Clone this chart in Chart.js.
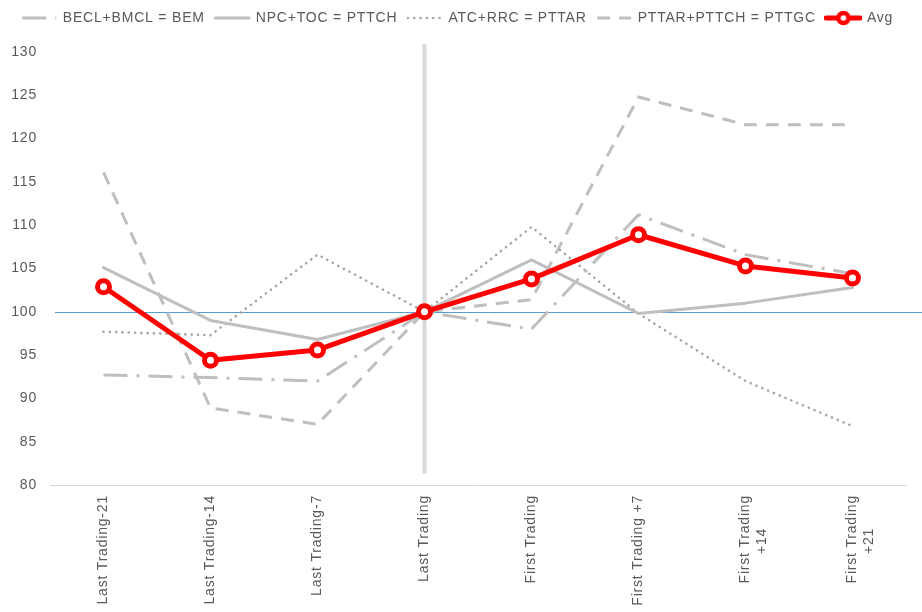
<!DOCTYPE html>
<html>
<head>
<meta charset="utf-8">
<script src="https://cdn.jsdelivr.net/npm/chart.js@4/dist/chart.umd.min.js"></script>
<style>
  html, body { margin: 0; padding: 0; background: #ffffff; }
  #wrap { width: 922px; height: 612px; }
</style>
</head>
<body>
<div id="wrap"><canvas id="c" width="922" height="612"></canvas></div>
<script>
const NB = '\u00A0';
const categories = ['Last Trading-21', 'Last Trading-14', 'Last Trading-7', 'Last Trading', 'First Trading', 'First Trading +7', ['First Trading', '+14' + NB.repeat(7)], ['First Trading', '+21' + NB.repeat(7)]];
const seriesNames = ['BECL+BMCL = BEM', 'NPC+TOC = PTTCH', 'ATC+RRC = PTTAR', 'PTTAR+PTTCH = PTTGC', 'Avg'];
const bem   = [92.7, 92.4, 92.0, 100, 98.0, 111.2, 106.6, 104.4];
const pttch = [105.1, 99.0, 96.8, 100, 106.0, 99.8, 101.0, 102.8];
const pttar = [97.7, 97.3, 106.6, 100, 109.8, 99.8, 92.0, 86.8];
const pttgc = [116.1, 88.9, 87.0, 100, 101.4, 124.8, 121.6, 121.6];
const avg   = [102.9, 94.4, 95.6, 100, 103.8, 108.9, 105.3, 103.9];
const markerCategory = 'Last Trading';
const markerRange = [130.9, 81.3];
const baselineValue = 100;
const yTicks = { min: 80, max: 130, step: 5 };

const GRAY = '#bfbfbf';
const DOT_GRAY = '#a6a6a6';
const TXT = '#595959';
const FONT = "'Liberation Sans', Arial, sans-serif";

const styles = [
  { color: GRAY, width: 3, dash: [24, 9, 3, 9], cap: 'butt' },
  { color: GRAY, width: 3, dash: [], cap: 'round' },
  { color: DOT_GRAY, width: 2.6, dash: [0.1, 6.2], cap: 'round' },
  { color: GRAY, width: 3, dash: [13, 9], cap: 'butt' },
  { color: '#ff0000', width: 5, dash: [], cap: 'round' }
];

function makeSample(i) {
  const cv = document.createElement('canvas');
  cv.width = 38; cv.height = 18;
  const g = cv.getContext('2d');
  const s = styles[i];
  g.strokeStyle = s.color; g.lineWidth = s.width; g.lineCap = s.cap;
  g.setLineDash(s.dash);
  g.beginPath(); g.moveTo(2, 9); g.lineTo(36, 9); g.stroke();
  if (i === 4) {
    g.setLineDash([]);
    g.beginPath(); g.arc(19, 9, 5, 0, Math.PI * 2);
    g.fillStyle = '#ffffff'; g.fill();
    g.lineWidth = 4.5; g.strokeStyle = '#ff0000'; g.stroke();
  }
  return cv;
}
const samples = [0, 1, 2, 3, 4].map(makeSample);

function lineDs(i, data, order) {
  const s = styles[i];
  return {
    label: seriesNames[i], data: data, order: order,
    borderColor: s.color, backgroundColor: s.color, borderWidth: s.width,
    borderDash: s.dash, borderCapStyle: s.cap, borderJoinStyle: 'round',
    pointRadius: 0, pointHoverRadius: 0, tension: 0, fill: false
  };
}

const datasets = [
  lineDs(0, bem, 1),
  lineDs(1, pttch, 2),
  lineDs(2, pttar, 3),
  lineDs(3, pttgc, 4),
  Object.assign(lineDs(4, avg, 0), {
    pointRadius: 6, pointBorderWidth: 5, pointBackgroundColor: '#ffffff',
    pointBorderColor: '#ff0000', borderJoinStyle: 'round'
  }),
  {
    label: 'marker', order: 10,
    data: [{ x: markerCategory, y: markerRange[0] }, { x: markerCategory, y: markerRange[1] }],
    borderColor: '#d9d9d9', borderWidth: 4, pointRadius: 0, clip: false, fill: false
  }
];

const baselinePlugin = {
  id: 'baseline',
  beforeDatasetsDraw(chart) {
    const y = chart.scales.y.getPixelForValue(baselineValue);
    const ctx = chart.ctx;
    ctx.save();
    ctx.strokeStyle = '#5b9bd5'; ctx.lineWidth = 1;
    ctx.beginPath();
    ctx.moveTo(chart.chartArea.left + 5, Math.round(y) + 0.5);
    ctx.lineTo(chart.width, Math.round(y) + 0.5);
    ctx.stroke();
    ctx.restore();
  }
};

const legendHeightPlugin = {
  id: 'legendHeight',
  beforeLayout(chart) {
    chart.ctx.letterSpacing = '0.8px';
    const lg = chart.legend;
    if (lg && !lg._patched) {
      const f = lg.fit;
      lg.fit = function () { f.call(this); this.height = 52; };
      lg._patched = true;
    }
  },
  beforeDraw(chart) {
    chart.ctx.letterSpacing = '0.8px';
  }
};

new Chart(document.getElementById('c'), {
  type: 'line',
  data: { labels: categories, datasets: datasets },
  plugins: [baselinePlugin, legendHeightPlugin],
  options: {
    responsive: false, animation: false, devicePixelRatio: 1,
    layout: { padding: { left: 10, right: 16, top: 0, bottom: 0 } },
    plugins: {
      tooltip: { enabled: false },
      legend: {
        position: 'top', align: 'center',
        labels: {
          usePointStyle: true, pointStyleWidth: 33, padding: 11,
          color: TXT, font: { family: FONT, size: 14 },
          generateLabels(chart) {
            const items = Chart.defaults.plugins.legend.labels.generateLabels(chart);
            items.forEach(it => { if (it.datasetIndex < 5) it.pointStyle = samples[it.datasetIndex]; });
            return items;
          },
          filter: (it) => it.datasetIndex < 5,
          sort: (a, b) => a.datasetIndex - b.datasetIndex
        }
      }
    },
    scales: {
      x: {
        type: 'category', offset: true,
        grid: { display: false, drawTicks: false },
        border: { display: true, color: '#d9d9d9', width: 1 },
        ticks: { autoSkip: false, minRotation: 90, maxRotation: 90, padding: 10, color: TXT, font: { family: FONT, size: 14 } },
        afterFit: (s) => { s.height = 127; }
      },
      y: {
        min: yTicks.min, max: yTicks.max,
        grid: { display: false, drawTicks: false },
        border: { display: false },
        ticks: { stepSize: yTicks.step, padding: 13, color: TXT, font: { family: FONT, size: 14 } },
        afterFit: (s) => { s.width = 40; }
      }
    }
  }
});
</script>
</body>
</html>
